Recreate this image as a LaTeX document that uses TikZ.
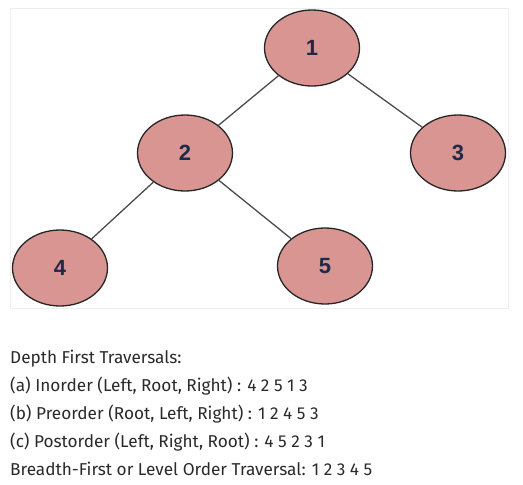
\documentclass[tikz,border=0pt]{standalone}
\usepackage{fontspec}
\setmainfont{Fira Sans}
\newfontfamily\nodefont{Liberation Sans}
\usetikzlibrary{shapes.geometric}
\definecolor{nodefill}{HTML}{D99592}
\definecolor{nodetext}{HTML}{1F2A48}
\definecolor{bodytext}{HTML}{2A2A2A}
\definecolor{panelline}{HTML}{EEEEEE}
\begin{document}
\begin{tikzpicture}[x=1pt,y=-1pt,
  treenode/.style={ellipse, draw=black!85, line width=1.3pt, fill=nodefill,
    minimum width=95pt, minimum height=76pt, inner sep=0pt,
    font=\nodefont\bfseries\fontsize{22}{24}\selectfont, text=nodetext},
  edge/.style={draw=black!70, line width=1.3pt},
  txt/.style={anchor=base west, inner sep=0pt, text=bodytext,
    font=\fontsize{17.2}{20}\selectfont}]
\useasboundingbox (0,0) rectangle (523,485);
\fill[white] (0,0) rectangle (523,485);
\draw[panelline, line width=0.8pt] (10,8) rectangle (508,308);
\node[treenode] (n1) at (312,48) {1};
\node[treenode] (n2) at (185,153) {2};
\node[treenode] (n3) at (458,153) {3};
\node[treenode] (n4) at (60,268) {4};
\node[treenode] (n5) at (325,266) {5};
\draw[edge] (n1) -- (n2);
\draw[edge] (n1) -- (n3);
\draw[edge] (n2) -- (n4);
\draw[edge] (n2) -- (n5);
\node[txt] (t1) at (10,363) {Depth First Traversals:};
\node[txt] (t2) at (10,391) {(a) Inorder (Left, Root, Right) : 4 2 5 1 3};
\node[txt] (t3) at (10,419) {(b) Preorder (Root, Left, Right) : 1 2 4 5 3};
\node[txt] (t4) at (10,447) {(c) Postorder (Left, Right, Root) : 4 5 2 3 1};
\node[txt] (t5) at (10,475) {Breadth-First or Level Order Traversal: 1 2 3 4 5};
\end{tikzpicture}
\end{document}
